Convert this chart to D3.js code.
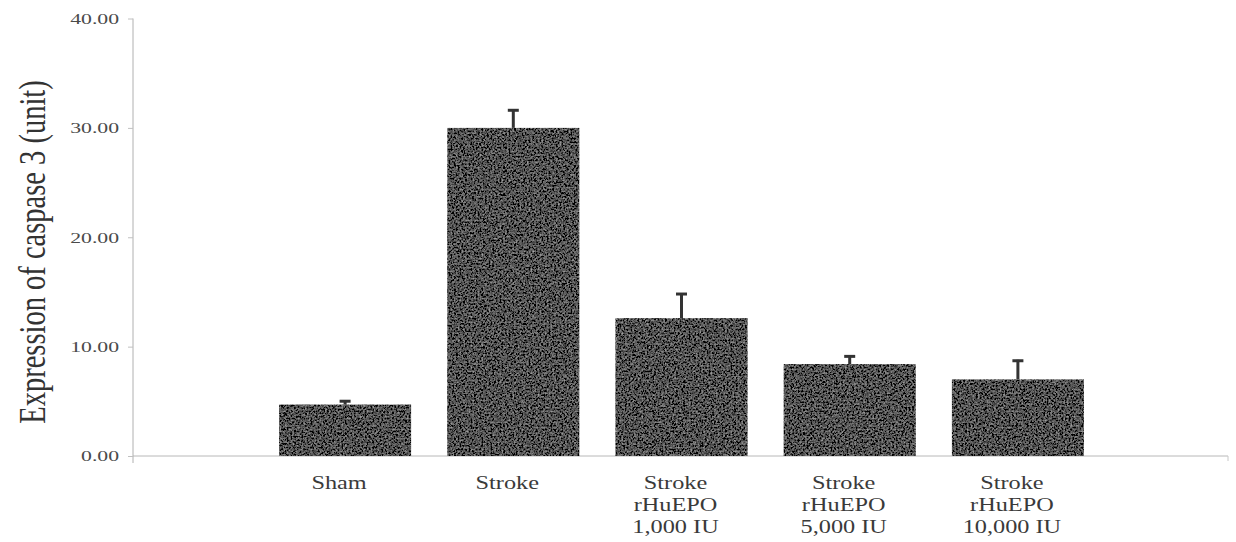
<!DOCTYPE html>
<html>
<head>
<meta charset="utf-8">
<script src="https://cdn.jsdelivr.net/npm/d3@7"></script>
<style>
  html, body { margin: 0; padding: 0; background: #fff; }
  svg { display: block; }
  text { font-family: "Liberation Serif", "Times New Roman", serif; }
</style>
</head>
<body>
<svg id="chart" width="1236" height="542"></svg>
<script>
// Caspase 3 expression by treatment group (mean with upper error bar)
const groups = ["Sham", "Stroke", "Stroke rHuEPO 1,000 IU", "Stroke rHuEPO 5,000 IU", "Stroke rHuEPO 10,000 IU"];
const groupLabelLines = [["Sham"], ["Stroke"], ["Stroke", "rHuEPO", "1,000 IU"], ["Stroke", "rHuEPO", "5,000 IU"], ["Stroke", "rHuEPO", "10,000 IU"]];
const meanValues = [4.7, 30.0, 12.6, 8.4, 7.0];
const errorValues = [0.4, 1.7, 2.3, 0.8, 1.8];
const yTicks = [0, 10, 20, 30, 40];
const yTitle = "Expression of caspase 3 (unit)";

const svg = d3.select("#chart");

// Grainy fill for the bars
const defs = svg.append("defs");
const grain = defs.append("filter").attr("id", "grain")
  .attr("x", 0).attr("y", 0).attr("width", 1).attr("height", 1);
grain.append("feTurbulence").attr("type", "fractalNoise")
  .attr("baseFrequency", 0.55).attr("numOctaves", 2).attr("seed", 7).attr("result", "noise");
grain.append("feColorMatrix").attr("in", "noise").attr("type", "matrix")
  .attr("values", "0.33 0.33 0.33 0 0  0.33 0.33 0.33 0 0  0.33 0.33 0.33 0 0  0 0 0 0 1")
  .attr("result", "grayNoise");
grain.append("feComposite").attr("in", "SourceGraphic").attr("in2", "grayNoise")
  .attr("operator", "arithmetic").attr("k1", 0).attr("k2", 1).attr("k3", 1.2).attr("k4", -0.6)
  .attr("result", "mixed");
grain.append("feComposite").attr("in", "mixed").attr("in2", "SourceGraphic").attr("operator", "in");

const x = d3.scaleBand()
  .domain(groups)
  .range([261, 1102])
  .paddingInner(0.215)
  .paddingOuter(0.1075);

const y = d3.scaleLinear()
  .domain([0, 40])
  .range([456, 18.5]);

const axisLeftX = 133;
const axisRightX = 1228;

// X axis baseline
svg.append("line")
  .attr("x1", axisLeftX).attr("x2", axisRightX)
  .attr("y1", y(0)).attr("y2", y(0))
  .attr("stroke", "#b8b8b8").attr("stroke-width", 1);
svg.append("line")
  .attr("x1", axisRightX).attr("x2", axisRightX)
  .attr("y1", y(0)).attr("y2", y(0) + 5)
  .attr("stroke", "#c8c8c8").attr("stroke-width", 1);

// Y axis
const yAxis = svg.append("g")
  .attr("transform", `translate(${axisLeftX},0)`)
  .call(d3.axisLeft(y).tickValues(yTicks).tickSize(5).tickFormat(d3.format(".2f")));
yAxis.select(".domain")
  .attr("stroke", "#b0b0b0")
  .attr("d", `M0,${y(40)}V${y(0) + 7}`);
yAxis.selectAll(".tick line").attr("stroke", "#c0c0c0");
yAxis.selectAll(".tick text")
  .attr("x", -9.6)
  .attr("transform", "scale(1.45,1)")
  .attr("fill", "#4a4a4a")
  .style("font-family", "'Liberation Serif', serif")
  .style("font-size", "15px");

// Bars
svg.append("g").selectAll("rect")
  .data(groups)
  .join("rect")
  .attr("x", d => x(d))
  .attr("width", x.bandwidth())
  .attr("y", (d, i) => y(meanValues[i]))
  .attr("height", (d, i) => y(0) - y(meanValues[i]))
  .attr("fill", "#555555")
  .attr("filter", "url(#grain)");

// Upper error bars
const err = svg.append("g").attr("stroke", "#333");
err.selectAll("line.stem")
  .data(groups)
  .join("line")
  .attr("class", "stem")
  .attr("x1", d => x(d) + x.bandwidth() / 2)
  .attr("x2", d => x(d) + x.bandwidth() / 2)
  .attr("y1", (d, i) => y(meanValues[i]))
  .attr("y2", (d, i) => y(meanValues[i] + errorValues[i]))
  .attr("stroke-width", 3);
err.selectAll("line.cap")
  .data(groups)
  .join("line")
  .attr("class", "cap")
  .attr("x1", d => x(d) + x.bandwidth() / 2 - 5.5)
  .attr("x2", d => x(d) + x.bandwidth() / 2 + 5.5)
  .attr("y1", (d, i) => y(meanValues[i] + errorValues[i]) + 1)
  .attr("y2", (d, i) => y(meanValues[i] + errorValues[i]) + 1)
  .attr("stroke-width", 3);

// Category labels
const labelScale = 1.35;
const labels = svg.append("g");
groups.forEach((g, i) => {
  const cx = x(g) + x.bandwidth() / 2 - 6;
  const t = labels.append("text")
    .attr("transform", `translate(${cx},489) scale(${labelScale},1)`)
    .attr("text-anchor", "middle")
    .attr("fill", "#3a3a3a")
    .style("font-size", "18px");
  groupLabelLines[i].forEach((line, j) => {
    t.append("tspan").attr("x", 0).attr("y", j * 22).text(line);
  });
});

// Y axis title
svg.append("text")
  .attr("transform", "translate(32,252) scale(1.3,1) rotate(-90)")
  .attr("text-anchor", "middle")
  .attr("dy", "0.35em")
  .attr("fill", "#333")
  .style("font-size", "28.5px")
  .text(yTitle);
</script>
</body>
</html>
